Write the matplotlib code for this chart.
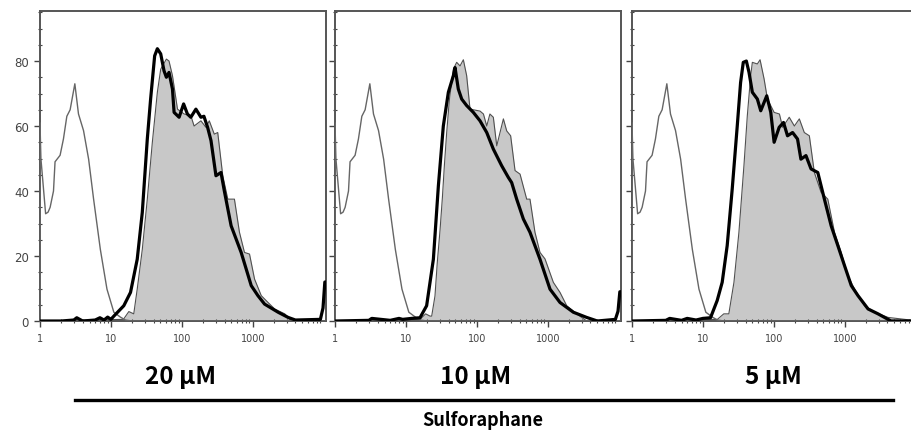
import numpy as np
import matplotlib
matplotlib.use('Agg')
import matplotlib.pyplot as plt
from matplotlib.lines import Line2D
from matplotlib.ticker import FixedLocator, NullFormatter

# unstained / isotype control (same in every panel)
ctrl_x = [1.0, 1.0, 1.03, 1.2, 1.3, 1.39, 1.55, 1.63, 1.92, 2.14, 2.39, 2.66, 3.1,
          3.49, 4.11, 4.85, 5.7, 7.1, 8.8, 11.0, 13.6, 16.0, 20.0, 11000]
ctrl_y = [0, 61, 50, 33, 33.5, 35, 40, 49, 51, 56, 63, 65, 73,
          63.7, 58.6, 49.8, 37.5, 22, 9.8, 2.7, 1.2, 0.3, 0, 0]

# untreated (filled) histograms
fill1_x = [1, 15, 17.9, 21, 23.5, 27.7, 32.6, 38.4, 45.2, 50.4, 60.6, 66, 73.8, 86.9,
           108, 134, 149, 186, 219, 244, 287, 321, 378, 445, 552, 650, 765, 901,
           1061, 1320, 1643, 2040, 2830, 3516, 11000]
fill1_y = [0, 0.5, 2.9, 2.2, 9.8, 22, 37.5, 55, 70.4, 77.5, 80.6, 80, 75.5, 65.2,
           63.7, 63.2, 60, 61.6, 59.6, 61.6, 57.5, 58, 44.7, 37.5, 37.5, 27.3, 21.1, 20.6,
           12.9, 7.8, 5.7, 3.7, 2.2, 0, 0]

fill2_x = [1, 15.8, 19, 21.9, 23.1, 25.7, 27.7, 30.3, 32.7, 34.9, 37.6, 41, 46.7, 52,
           58, 64.6, 71.9, 80.2, 111, 124, 138, 153, 171, 191, 237, 264, 300, 346,
           407, 505, 562, 661, 778, 916, 1200, 1490, 1853, 2565, 3546, 11000]
fill2_y = [0, 0.5, 2.2, 1.5, 1.5, 7.7, 18, 28, 38, 48, 58, 68, 77.5, 79.6,
           78.5, 80.4, 75.5, 65.2, 64.6, 63.7, 60, 63.7, 62.7, 53.9, 62.2, 58.5, 57, 46.3,
           45.2, 37.5, 37.5, 27.3, 21.1, 19.1, 11.9, 8.8, 4.7, 2.2, 0, 0]

fill3_x = [1, 16, 19.7, 23.2, 27.4, 32.2, 37.9, 42.3, 47.2, 49.8, 58.6, 64, 72.9, 81.3,
           101, 120, 133, 165, 195, 229, 269, 317, 373, 464, 577, 717, 891, 1109,
           1378, 1905, 2650, 4090, 11000]
fill3_y = [0, 0.5, 2.2, 2.2, 11.9, 27.3, 47.8, 63.2, 75.5, 79.6, 79.1, 80.4, 74.5, 68.3,
           64.2, 63.7, 59.6, 62.7, 60, 62.2, 58, 57, 45.7, 39.6, 37.5, 27.3, 21.1, 13.9,
           9.8, 4.7, 2.7, 1.1, 0]

# sulforaphane-treated (thick black) histograms
treat1_x = [1, 2, 3, 3.3, 4, 6, 7, 8, 9, 10, 11, 15.2, 18.9, 23.5, 27.7, 32.6, 36.3,
            41.4, 45.2, 50.4, 56.1, 60.6, 66, 73.8, 77.8, 91.6, 106, 120, 134, 158,
            186, 205, 231, 258, 303, 357, 398, 496, 687, 952, 1184, 1470, 2280, 3160,
            4000, 9000, 9800, 10400, 10800]
treat1_y = [0, 0, 0.3, 1, 0, 0.3, 1, 0.3, 1.2, 0.5, 1.5, 4.7, 8.8, 19, 33.4, 56, 68.3,
            81.6, 83.8, 82.2, 77, 75, 76.5, 71.4, 64.2, 62.7, 66.8, 63.7, 62.7, 65.2,
            62.7, 63, 59.6, 55.5, 44.7, 45.7, 40, 29.3, 21.1, 10.9, 7.8, 5.2, 2.7, 1.1,
            0.3, 0.5, 4, 12, 12]

treat2_x = [1, 3, 3.3, 6, 8, 9, 12, 15.8, 19.6, 24.4, 28.7, 33.7, 39.7, 46.7, 49.3,
            54.8, 61.2, 71.9, 89.3, 111, 138, 171, 224, 278, 310, 365, 453, 562, 778,
            1077, 1490, 2297, 3546, 5000, 9000, 9800, 10400, 10800]
treat2_y = [0, 0.2, 0.8, 0.2, 0.8, 0.5, 0.8, 1, 4.7, 19, 41.6, 60, 70.4, 75.5, 78,
            71.4, 68.3, 66.3, 64.2, 61.6, 58, 52.9, 47.8, 44.2, 42.6, 37.5, 31.4, 27.3,
            19, 9.8, 5.7, 2.7, 1.1, 0, 0.5, 3, 9, 9]

treat3_x = [1, 3, 3.4, 5, 6, 8, 10, 12.8, 15.9, 18.7, 22, 25.9, 30.5, 34, 37.1, 41,
            44.7, 49.8, 58.6, 65.4, 79.5, 90.6, 101, 119, 137, 156, 184, 216, 241, 284,
            335, 417, 517, 644, 800, 995, 1237, 1538, 2135, 2950, 4500, 11000]
treat3_y = [0, 0.2, 0.8, 0.2, 0.8, 0.3, 0.8, 1, 6.3, 11.9, 23.2, 40.6, 60, 73.4, 79.6,
            80, 76.5, 70.4, 68.3, 64.7, 69.3, 64.2, 55, 59.6, 61.1, 57, 58, 56, 49.8,
            50.9, 46.8, 45.7, 37.5, 29.3, 23.2, 17, 10.9, 7.8, 3.7, 2.2, 0, 0]

panels = [
    (fill1_x, fill1_y, treat1_x, treat1_y),
    (fill2_x, fill2_y, treat2_x, treat2_y),
    (fill3_x, fill3_y, treat3_x, treat3_y),
]
doses = ['20 µM', '10 µM', '5 µM']

W, H = 911, 431
fig = plt.figure(figsize=(W / 100, H / 100), dpi=100)
fig.patch.set_facecolor('white')

lefts = [40, 335, 632]
ax_w = 286
ax_top, ax_bot = 12, 322
xmax = 10800

for i, (fx, fy, tx, ty) in enumerate(panels):
    ax = fig.add_axes([lefts[i] / W, 1 - ax_bot / H, ax_w / W, (ax_bot - ax_top) / H])
    ax.fill_between(fx, fy, 0, color='#c8c8c8', lw=0, zorder=1)
    ax.plot(fx, fy, color='#505050', lw=0.8, zorder=2)
    ax.plot(ctrl_x, ctrl_y, color='#666666', lw=1.0, zorder=3)
    ax.plot(tx, ty, color='black', lw=2.3, zorder=4, solid_joinstyle='round')

    ax.set_xscale('log')
    ax.set_xlim(1, xmax)
    ax.set_ylim(0, 95.4)

    ax.xaxis.set_major_locator(FixedLocator([1, 10, 100, 1000]))
    minors = [m * 10 ** d for d in range(4) for m in range(2, 10)]
    ax.xaxis.set_minor_locator(FixedLocator(minors))
    ax.xaxis.set_minor_formatter(NullFormatter())
    ax.set_xticklabels(['1', '10', '100', '1000'])
    ax.yaxis.set_major_locator(FixedLocator([0, 20, 40, 60, 80]))
    ax.yaxis.set_minor_locator(FixedLocator(list(range(5, 96, 5))))

    ax.tick_params(axis='both', which='major', direction='out', length=4, width=1,
                   color='#444444', labelsize=7, labelcolor='#444444')
    ax.tick_params(axis='x', which='major', pad=5)
    ax.tick_params(axis='both', which='minor', direction='inout', length=3, width=0.8,
                   color='#444444')
    ax.tick_params(axis='y', which='major', labelsize=8.5, pad=4)
    if i > 0:
        ax.set_yticklabels([])

    for sp in ax.spines.values():
        sp.set_color('#555555')
        sp.set_linewidth(1.4)

    fig.text([181, 476, 773][i] / W, 1 - 377 / H, doses[i], ha='center', va='center',
             fontsize=17.5, fontweight='bold', family=['Noto Sans CJK KR', 'DejaVu Sans'])

fig.add_artist(Line2D([75 / W, 893 / W], [1 - 401 / H, 1 - 401 / H],
                      color='black', lw=2.4, transform=fig.transFigure))
fig.text(483 / W, 1 - 421 / H, 'Sulforaphane', ha='center', va='center',
         fontsize=13, fontweight='bold', family=['Noto Sans CJK KR', 'DejaVu Sans'])

fig.savefig('out.png', dpi=100)
